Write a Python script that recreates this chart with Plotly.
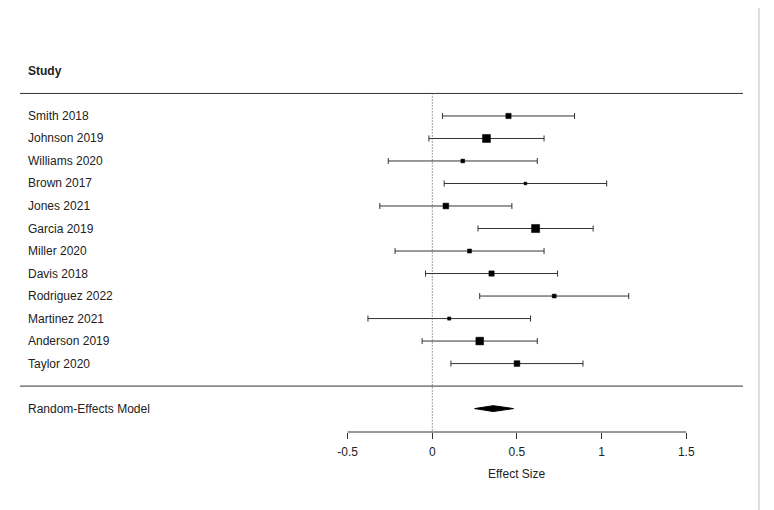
import plotly.graph_objects as go

# study level data
studies = ["Smith 2018", "Johnson 2019", "Williams 2020", "Brown 2017", "Jones 2021",
           "Garcia 2019", "Miller 2020", "Davis 2018", "Rodriguez 2022", "Martinez 2021",
           "Anderson 2019", "Taylor 2020"]
effect = [0.45, 0.32, 0.18, 0.55, 0.08, 0.61, 0.22, 0.35, 0.72, 0.10, 0.28, 0.50]
ci_low = [0.06, -0.02, -0.26, 0.07, -0.31, 0.27, -0.22, -0.04, 0.28, -0.38, -0.06, 0.11]
ci_high = [0.84, 0.66, 0.62, 1.03, 0.47, 0.95, 0.66, 0.74, 1.16, 0.58, 0.62, 0.89]
weights = [7.6, 11.4, 5.4, 4.0, 8.2, 11.6, 5.8, 7.6, 5.6, 4.6, 11.0, 8.2]

# pooled random-effects estimate
re_label = "Random-Effects Model"
re_est = 0.36
re_low = 0.25
re_high = 0.48

tick_vals = [-0.5, 0, 0.5, 1, 1.5]
tick_text = ["-0.5", "0", "0.5", "1", "1.5"]

FONT = "Liberation Sans, Arial, Helvetica, sans-serif"

rows = [-i for i in range(len(studies))]
re_row = -13

fig = go.Figure()

fig.add_trace(go.Scatter(
    x=effect, y=rows, mode="markers",
    marker=dict(symbol="square", color="black", size=[w * 0.7 for w in weights],
                opacity=1, line=dict(width=0.5, color="black")),
    error_x=dict(type="data", symmetric=False,
                 array=[h - e for h, e in zip(ci_high, effect)],
                 arrayminus=[e - l for e, l in zip(effect, ci_low)],
                 color="#333333", thickness=1, width=3),
    hoverinfo="skip", showlegend=False))

# diamond for the pooled estimate
h = 0.13
fig.add_trace(go.Scatter(
    x=[re_low, re_est, re_high, re_est, re_low],
    y=[re_row, re_row + h, re_row, re_row - h, re_row],
    mode="lines", fill="toself", fillcolor="black",
    line=dict(color="black", width=1), hoverinfo="skip", showlegend=False))

# study labels
for name, r in zip(studies, rows):
    fig.add_annotation(x=0, xref="paper", y=r, yref="y", text=name, showarrow=False,
                       xanchor="left", xshift=6, font=dict(size=12, color="#222"))
fig.add_annotation(x=0, xref="paper", y=re_row, yref="y", text=re_label, showarrow=False,
                   xanchor="left", xshift=6, font=dict(size=12, color="#222"))
fig.add_annotation(x=0, xref="paper", y=2, yref="y", text="<b>Study</b>", showarrow=False,
                   xanchor="left", xshift=6, font=dict(size=12, color="#222"))
fig.add_annotation(x=0.5, xref="x", y=-0.11, yref="paper", text="Effect Size",
                   showarrow=False, yanchor="middle", font=dict(size=12, color="#222"))

# separators, reference line, partial axis line
fig.add_shape(type="line", xref="paper", x0=0, x1=1, yref="y", y0=1, y1=1,
              line=dict(color="#333", width=1))
fig.add_shape(type="line", xref="paper", x0=0, x1=1, yref="y", y0=-12, y1=-12,
              line=dict(color="#333", width=1))
fig.add_shape(type="line", xref="x", x0=0, x1=0, yref="y", y0=1, y1=-14.04,
              line=dict(color="#444", width=1, dash="1px,2px"))
fig.add_shape(type="line", xref="x", x0=tick_vals[0], x1=tick_vals[-1], yref="paper",
              y0=0, y1=0, line=dict(color="#333", width=1))
# light page edge on the right
fig.add_shape(type="line", xref="paper", x0=1.022, x1=1.022, yref="paper", y0=-0.25, y1=1.14,
              line=dict(color="#dcdce6", width=2))

fig.update_layout(
    width=774, height=510,
    margin=dict(l=12, r=39, t=42, b=86),
    paper_bgcolor="white", plot_bgcolor="white",
    font=dict(family=FONT, size=12, color="#222"),
    xaxis=dict(range=[-2.435, 1.835], showgrid=False, zeroline=False, showline=False,
               tickvals=tick_vals, ticktext=tick_text, ticks="outside", ticklen=6,
               ticklabelstandoff=3,
               tickcolor="#333", tickwidth=1, tickfont=dict(size=12, color="#222")),
    yaxis=dict(range=[-14.04, 2.93], showgrid=False, zeroline=False, showline=False,
               showticklabels=False, ticks=""),
)

fig.write_html("out.html")
